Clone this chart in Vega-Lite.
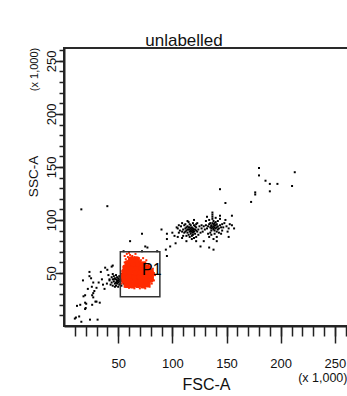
{
  "$schema": "https://vega.github.io/schema/vega-lite/v6.json",
  "autosize": "none",
  "width": 284,
  "height": 278,
  "padding": {"left": 64, "top": 48, "right": 0, "bottom": 70},
  "background": "white",
  "config": {
    "view": {"stroke": "#2a2a2a", "strokeWidth": 2},
    "font": "Liberation Sans, Arial, sans-serif"
  },
  "title": {"text": "unlabelled", "fontSize": 17, "fontWeight": "normal", "font": "Liberation Sans, Arial, sans-serif", "color": "#111", "baseline": "alphabetic", "offset": 3, "dx": -22, "dy": 19},
  "datasets": {
    "other": [
      {"fsc": 117, "ssc": 90}, {"fsc": 118, "ssc": 91}, {"fsc": 116, "ssc": 89}, {"fsc": 119, "ssc": 92}, {"fsc": 115, "ssc": 91}, {"fsc": 120, "ssc": 89}, {"fsc": 117, "ssc": 87}, {"fsc": 118, "ssc": 93}, {"fsc": 114, "ssc": 88}, {"fsc": 121, "ssc": 91}, {"fsc": 116, "ssc": 93}, {"fsc": 119, "ssc": 88}, {"fsc": 113, "ssc": 90}, {"fsc": 122, "ssc": 93}, {"fsc": 117, "ssc": 95}, {"fsc": 115, "ssc": 86}, {"fsc": 120, "ssc": 95}, {"fsc": 112, "ssc": 92}, {"fsc": 123, "ssc": 89}, {"fsc": 118, "ssc": 85}, {"fsc": 116, "ssc": 96}, {"fsc": 121, "ssc": 87}, {"fsc": 111, "ssc": 88}, {"fsc": 124, "ssc": 91}, {"fsc": 114, "ssc": 94}, {"fsc": 119, "ssc": 97}, {"fsc": 110, "ssc": 91}, {"fsc": 125, "ssc": 94}, {"fsc": 113, "ssc": 85}, {"fsc": 122, "ssc": 84}, {"fsc": 109, "ssc": 89}, {"fsc": 120, "ssc": 100}, {"fsc": 115, "ssc": 98}, {"fsc": 107, "ssc": 90}, {"fsc": 126, "ssc": 88}, {"fsc": 112, "ssc": 96}, {"fsc": 118, "ssc": 82}, {"fsc": 105, "ssc": 92}, {"fsc": 123, "ssc": 97}, {"fsc": 110, "ssc": 85}, {"fsc": 116, "ssc": 84}, {"fsc": 124, "ssc": 86}, {"fsc": 108, "ssc": 94}, {"fsc": 119, "ssc": 86}, {"fsc": 114, "ssc": 91}, {"fsc": 117, "ssc": 92}, {"fsc": 121, "ssc": 94}, {"fsc": 113, "ssc": 93}, {"fsc": 119, "ssc": 90}, {"fsc": 116, "ssc": 91}, {"fsc": 111, "ssc": 95}, {"fsc": 122, "ssc": 90}, {"fsc": 106, "ssc": 88}, {"fsc": 127, "ssc": 92}, {"fsc": 104, "ssc": 93}, {"fsc": 114, "ssc": 99}, {"fsc": 120, "ssc": 83}, {"fsc": 109, "ssc": 97}, {"fsc": 118, "ssc": 89}, {"fsc": 115, "ssc": 93}, {"fsc": 120, "ssc": 91}, {"fsc": 117, "ssc": 89}, {"fsc": 112, "ssc": 89}, {"fsc": 122, "ssc": 96},
      {"fsc": 138, "ssc": 94}, {"fsc": 139, "ssc": 95}, {"fsc": 137, "ssc": 93}, {"fsc": 140, "ssc": 92}, {"fsc": 136, "ssc": 95}, {"fsc": 141, "ssc": 96}, {"fsc": 138, "ssc": 91}, {"fsc": 135, "ssc": 93}, {"fsc": 142, "ssc": 94}, {"fsc": 137, "ssc": 97}, {"fsc": 139, "ssc": 90}, {"fsc": 134, "ssc": 96}, {"fsc": 143, "ssc": 92}, {"fsc": 136, "ssc": 90}, {"fsc": 140, "ssc": 98}, {"fsc": 133, "ssc": 94}, {"fsc": 144, "ssc": 95}, {"fsc": 138, "ssc": 99}, {"fsc": 141, "ssc": 89}, {"fsc": 135, "ssc": 88}, {"fsc": 145, "ssc": 93}, {"fsc": 132, "ssc": 92}, {"fsc": 137, "ssc": 101}, {"fsc": 142, "ssc": 99}, {"fsc": 139, "ssc": 87}, {"fsc": 146, "ssc": 96}, {"fsc": 131, "ssc": 95}, {"fsc": 134, "ssc": 100}, {"fsc": 143, "ssc": 88}, {"fsc": 147, "ssc": 93}, {"fsc": 136, "ssc": 86}, {"fsc": 140, "ssc": 102}, {"fsc": 130, "ssc": 91}, {"fsc": 148, "ssc": 97}, {"fsc": 133, "ssc": 87}, {"fsc": 144, "ssc": 101}, {"fsc": 137, "ssc": 105}, {"fsc": 137, "ssc": 107}, {"fsc": 137, "ssc": 103}, {"fsc": 138, "ssc": 96}, {"fsc": 136, "ssc": 92}, {"fsc": 141, "ssc": 93}, {"fsc": 139, "ssc": 93}, {"fsc": 135, "ssc": 97}, {"fsc": 142, "ssc": 91}, {"fsc": 150, "ssc": 94}, {"fsc": 129, "ssc": 94}, {"fsc": 152, "ssc": 92}, {"fsc": 131, "ssc": 99}, {"fsc": 145, "ssc": 87}, {"fsc": 149, "ssc": 100}, {"fsc": 128, "ssc": 89}, {"fsc": 153, "ssc": 96}, {"fsc": 146, "ssc": 90}, {"fsc": 132, "ssc": 103}, {"fsc": 155, "ssc": 95}, {"fsc": 141, "ssc": 84}, {"fsc": 134, "ssc": 84}, {"fsc": 127, "ssc": 95}, {"fsc": 144, "ssc": 104}, {"fsc": 138, "ssc": 82}, {"fsc": 151, "ssc": 89}, {"fsc": 139, "ssc": 97}, {"fsc": 136, "ssc": 94}, {"fsc": 140, "ssc": 95}, {"fsc": 138, "ssc": 92},
      {"fsc": 126, "ssc": 75}, {"fsc": 134, "ssc": 74}, {"fsc": 138, "ssc": 72}, {"fsc": 141, "ssc": 80}, {"fsc": 129, "ssc": 80}, {"fsc": 122, "ssc": 80}, {"fsc": 113, "ssc": 80}, {"fsc": 109, "ssc": 83}, {"fsc": 105, "ssc": 84}, {"fsc": 100, "ssc": 88}, {"fsc": 102, "ssc": 85},
      {"fsc": 144, "ssc": 129}, {"fsc": 149, "ssc": 116}, {"fsc": 155, "ssc": 104}, {"fsc": 157, "ssc": 92}, {"fsc": 152, "ssc": 84}, {"fsc": 172.7, "ssc": 117}, {"fsc": 176.5, "ssc": 126}, {"fsc": 176.5, "ssc": 124}, {"fsc": 180, "ssc": 149}, {"fsc": 180, "ssc": 142}, {"fsc": 186, "ssc": 137}, {"fsc": 190, "ssc": 134}, {"fsc": 197, "ssc": 134}, {"fsc": 190, "ssc": 127}, {"fsc": 210.5, "ssc": 132}, {"fsc": 213, "ssc": 145},
      {"fsc": 16, "ssc": 110}, {"fsc": 40, "ssc": 113}, {"fsc": 90, "ssc": 91}, {"fsc": 95, "ssc": 87}, {"fsc": 95, "ssc": 82}, {"fsc": 98, "ssc": 75}, {"fsc": 94, "ssc": 72}, {"fsc": 95, "ssc": 66}, {"fsc": 103, "ssc": 78}, {"fsc": 106, "ssc": 95}, {"fsc": 72, "ssc": 87}, {"fsc": 61, "ssc": 80}, {"fsc": 75, "ssc": 75}, {"fsc": 77, "ssc": 74}, {"fsc": 55, "ssc": 70.5}, {"fsc": 72, "ssc": 70.5}, {"fsc": 86, "ssc": 70.5},
      {"fsc": 10, "ssc": 7}, {"fsc": 14, "ssc": 9}, {"fsc": 16, "ssc": 4}, {"fsc": 24, "ssc": 6}, {"fsc": 31, "ssc": 6}, {"fsc": 11, "ssc": 8}, {"fsc": 12, "ssc": 19}, {"fsc": 15, "ssc": 20}, {"fsc": 19.5, "ssc": 22}, {"fsc": 20, "ssc": 17}, {"fsc": 26, "ssc": 20}, {"fsc": 29, "ssc": 23}, {"fsc": 33, "ssc": 22}, {"fsc": 18, "ssc": 28}, {"fsc": 19.5, "ssc": 29}, {"fsc": 26, "ssc": 29}, {"fsc": 27, "ssc": 27}, {"fsc": 27, "ssc": 31}, {"fsc": 30, "ssc": 23}, {"fsc": 20.5, "ssc": 21}, {"fsc": 19.5, "ssc": 16}, {"fsc": 17.5, "ssc": 43}, {"fsc": 27, "ssc": 41}, {"fsc": 32, "ssc": 41}, {"fsc": 25.7, "ssc": 37}, {"fsc": 23.5, "ssc": 51}, {"fsc": 23.5, "ssc": 47}, {"fsc": 38, "ssc": 55}, {"fsc": 37.4, "ssc": 35}, {"fsc": 39.6, "ssc": 40}, {"fsc": 30, "ssc": 36}, {"fsc": 35, "ssc": 44}, {"fsc": 41, "ssc": 48}, {"fsc": 28, "ssc": 33}, {"fsc": 22, "ssc": 35}, {"fsc": 36, "ssc": 39}, {"fsc": 42, "ssc": 43}, {"fsc": 34, "ssc": 51}, {"fsc": 44, "ssc": 56}, {"fsc": 45, "ssc": 57}, {"fsc": 40, "ssc": 53}, {"fsc": 25, "ssc": 45},
      {"fsc": 46, "ssc": 42}, {"fsc": 48, "ssc": 44}, {"fsc": 50, "ssc": 41}, {"fsc": 52, "ssc": 43}, {"fsc": 47, "ssc": 40}, {"fsc": 49, "ssc": 46}, {"fsc": 51, "ssc": 39}, {"fsc": 53, "ssc": 45}, {"fsc": 45, "ssc": 44}, {"fsc": 50, "ssc": 43}, {"fsc": 48, "ssc": 38}, {"fsc": 54, "ssc": 42}, {"fsc": 46, "ssc": 47}, {"fsc": 52, "ssc": 40}, {"fsc": 44, "ssc": 41}, {"fsc": 51, "ssc": 47}, {"fsc": 49, "ssc": 42}, {"fsc": 53, "ssc": 38}, {"fsc": 47, "ssc": 45}, {"fsc": 55, "ssc": 44}, {"fsc": 43, "ssc": 39}, {"fsc": 50, "ssc": 45}, {"fsc": 48, "ssc": 41}, {"fsc": 54, "ssc": 47}, {"fsc": 45, "ssc": 38}, {"fsc": 52, "ssc": 46}, {"fsc": 49, "ssc": 40}, {"fsc": 46, "ssc": 44}, {"fsc": 51, "ssc": 42}, {"fsc": 53, "ssc": 43}, {"fsc": 44, "ssc": 46}, {"fsc": 48, "ssc": 48}, {"fsc": 50, "ssc": 37}, {"fsc": 55, "ssc": 40}, {"fsc": 42, "ssc": 44}, {"fsc": 47, "ssc": 37}, {"fsc": 53, "ssc": 49}, {"fsc": 45, "ssc": 49}, {"fsc": 51, "ssc": 44}, {"fsc": 49, "ssc": 43}
    ],
    "p1core": [
      {"fsc": 58, "ssc": 39}, {"fsc": 63, "ssc": 38.5}, {"fsc": 68, "ssc": 39}, {"fsc": 73, "ssc": 38.5}, {"fsc": 77, "ssc": 39.5},
      {"fsc": 56, "ssc": 43}, {"fsc": 61, "ssc": 43.5}, {"fsc": 66, "ssc": 43}, {"fsc": 71, "ssc": 43}, {"fsc": 76, "ssc": 43.5}, {"fsc": 80, "ssc": 44},
      {"fsc": 55, "ssc": 47}, {"fsc": 60, "ssc": 47.5}, {"fsc": 65, "ssc": 47}, {"fsc": 70, "ssc": 47}, {"fsc": 75, "ssc": 47.5}, {"fsc": 80, "ssc": 48},
      {"fsc": 56, "ssc": 51}, {"fsc": 61, "ssc": 51.5}, {"fsc": 66, "ssc": 51}, {"fsc": 71, "ssc": 51}, {"fsc": 76, "ssc": 51.5}, {"fsc": 80, "ssc": 51},
      {"fsc": 57, "ssc": 55}, {"fsc": 62, "ssc": 55.5}, {"fsc": 67, "ssc": 55}, {"fsc": 72, "ssc": 55}, {"fsc": 77, "ssc": 54.5},
      {"fsc": 59, "ssc": 59}, {"fsc": 64, "ssc": 59.5}, {"fsc": 69, "ssc": 59}, {"fsc": 73, "ssc": 58},
      {"fsc": 62, "ssc": 62.5}, {"fsc": 67, "ssc": 62.5}
    ],
    "p1edge": [
      {"fsc": 53, "ssc": 40}, {"fsc": 54, "ssc": 52}, {"fsc": 53, "ssc": 46}, {"fsc": 55, "ssc": 56}, {"fsc": 56, "ssc": 60}, {"fsc": 57, "ssc": 63}, {"fsc": 56, "ssc": 66}, {"fsc": 58, "ssc": 68}, {"fsc": 59, "ssc": 65}, {"fsc": 61, "ssc": 67}, {"fsc": 63, "ssc": 66}, {"fsc": 65, "ssc": 65}, {"fsc": 69, "ssc": 64}, {"fsc": 71, "ssc": 62}, {"fsc": 75, "ssc": 60}, {"fsc": 78, "ssc": 58}, {"fsc": 80, "ssc": 56}, {"fsc": 82, "ssc": 54}, {"fsc": 83, "ssc": 50}, {"fsc": 82, "ssc": 46}, {"fsc": 83, "ssc": 43}, {"fsc": 81, "ssc": 40}, {"fsc": 79, "ssc": 37}, {"fsc": 75, "ssc": 35.5}, {"fsc": 70, "ssc": 35.5}, {"fsc": 65, "ssc": 35.5}, {"fsc": 60, "ssc": 36}, {"fsc": 56, "ssc": 37}, {"fsc": 54, "ssc": 43}, {"fsc": 84, "ssc": 48}, {"fsc": 66, "ssc": 68}, {"fsc": 60, "ssc": 69}, {"fsc": 58, "ssc": 57}, {"fsc": 76, "ssc": 62}, {"fsc": 73, "ssc": 64}
    ],
    "gate": [{"name": "P1", "fsc": 52, "fsc2": 88.5, "ssc": 27.6, "ssc2": 70, "lx": 72, "ly": 48}]
  },
  "resolve": {"axis": {"x": "independent", "y": "independent"}},
  "layer": [
    {
      "data": {"name": "other"},
      "mark": {"type": "square", "size": 4, "color": "#000", "opacity": 1},
      "encoding": {
        "x": {"field": "fsc", "type": "quantitative", "scale": {"domain": [0, 262.144], "nice": false, "zero": false},
          "axis": {"orient": "bottom", "values": [10,20,30,40,50,60,70,80,90,100,110,120,130,140,150,160,170,180,190,200,210,220,230,240,250,260], "tickSize": 10, "tickWidth": 1.5, "tickColor": "#222", "labels": false, "title": null, "grid": false, "domain": true, "domainColor": "#222", "domainWidth": 2}},
        "y": {"field": "ssc", "type": "quantitative", "scale": {"domain": [0, 262.144], "nice": false, "zero": false},
          "axis": {"orient": "left", "values": [10,20,30,40,50,60,70,80,90,100,110,120,130,140,150,160,170,180,190,200,210,220,230,240,250,260], "tickSize": 5, "tickWidth": 1.5, "tickColor": "#222", "labels": false, "title": null, "grid": false, "domain": true, "domainColor": "#222", "domainWidth": 2}}
      }
    },
    {
      "data": {"name": "p1core"},
      "mark": {"type": "circle", "size": 45, "color": "#ff2a00", "opacity": 1},
      "encoding": {
        "x": {"field": "fsc", "type": "quantitative", "scale": {"domain": [0, 262.144], "nice": false, "zero": false},
          "axis": {"orient": "bottom", "values": [50,100,150,200,250], "tickSize": 17, "tickWidth": 1.5, "tickColor": "#222", "domain": false, "grid": false, "labelFontSize": 13, "labelColor": "#111", "labelPadding": 14, "labelFlush": false, "title": "FSC-A", "titleFontSize": 16, "titleFontWeight": "normal", "titleColor": "#111", "titleBaseline": "alphabetic", "titleY": 63}},
        "y": {"field": "ssc", "type": "quantitative", "scale": {"domain": [0, 262.144], "nice": false, "zero": false},
          "axis": {"orient": "left", "values": [50,100,150,200,250], "tickSize": 9, "tickWidth": 1.5, "tickColor": "#222", "domain": false, "grid": false, "labelFontSize": 13, "labelColor": "#111", "labelAngle": 270, "labelAlign": "center", "labelBaseline": "alphabetic", "labelPadding": 0, "labelFlush": false, "title": "SSC-A", "titleFontSize": 13.5, "titleFontWeight": "normal", "titleColor": "#111", "titleAngle": 270, "titleAlign": "center", "titleBaseline": "alphabetic", "titleX": -27, "titleY": 128}}
      }
    },
    {
      "data": {"name": "p1edge"},
      "mark": {"type": "square", "size": 4, "color": "#ff2a00", "opacity": 1},
      "encoding": {
        "x": {"field": "fsc", "type": "quantitative", "scale": {"domain": [0, 262.144], "nice": false, "zero": false}, "axis": null},
        "y": {"field": "ssc", "type": "quantitative", "scale": {"domain": [0, 262.144], "nice": false, "zero": false}, "axis": null}
      }
    },
    {
      "data": {"name": "gate"},
      "mark": {"type": "rect", "fill": "transparent", "stroke": "#333", "strokeWidth": 1.5},
      "encoding": {
        "x": {"field": "fsc", "type": "quantitative", "scale": {"domain": [0, 262.144], "nice": false, "zero": false},
          "axis": {"orient": "bottom", "ticks": false, "labels": false, "domain": false, "grid": false, "title": "(x 1,000)", "titleFontSize": 12.5, "titleFontWeight": "normal", "titleColor": "#111", "titleAlign": "right", "titleBaseline": "alphabetic", "titleX": 283, "titleY": 55}},
        "x2": {"field": "fsc2"},
        "y": {"field": "ssc", "type": "quantitative", "scale": {"domain": [0, 262.144], "nice": false, "zero": false},
          "axis": {"orient": "left", "ticks": false, "labels": false, "domain": false, "grid": false, "title": "(x 1,000)", "titleFontSize": 11, "titleFontWeight": "normal", "titleColor": "#111", "titleAngle": 270, "titleAlign": "center", "titleBaseline": "alphabetic", "titleX": -27, "titleY": 21}},
        "y2": {"field": "ssc2"}
      }
    },
    {
      "data": {"name": "gate"},
      "mark": {"type": "text", "fontSize": 16, "align": "left", "baseline": "alphabetic", "color": "#000"},
      "encoding": {
        "x": {"field": "lx", "type": "quantitative", "scale": {"domain": [0, 262.144], "nice": false, "zero": false}, "axis": null},
        "y": {"field": "ly", "type": "quantitative", "scale": {"domain": [0, 262.144], "nice": false, "zero": false}, "axis": null},
        "text": {"field": "name"}
      }
    }
  ]
}
